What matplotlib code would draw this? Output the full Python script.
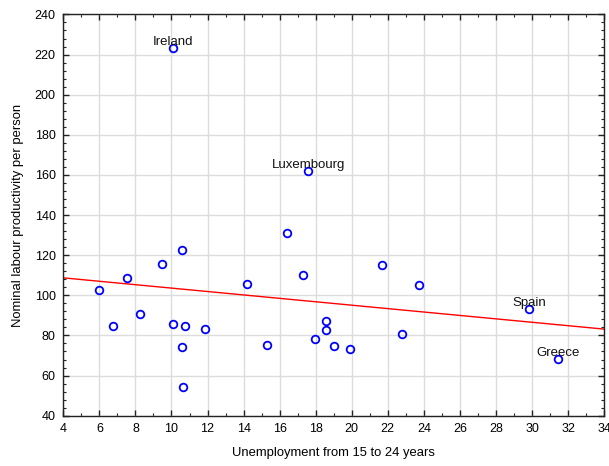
import numpy as np
import matplotlib
matplotlib.use("Agg")
import matplotlib.pyplot as plt
from matplotlib.ticker import MultipleLocator

plt.rcParams['font.family'] = ['Liberation Sans', 'DejaVu Sans']

# Unemployment from 15 to 24 years (x) vs nominal labour productivity per person (y)
unemployment = [5.96, 6.74, 7.53, 8.26, 9.48, 10.07, 10.07, 10.59, 10.57, 10.75, 10.66,
                11.88, 14.19, 15.3, 16.4, 17.28, 17.6, 17.98, 18.58, 18.58, 19.0,
                19.91, 21.7, 22.81, 23.72, 29.84, 31.44]
productivity = [102.6, 84.6, 108.4, 90.8, 115.7, 223.4, 85.8, 122.5, 74.3, 84.6, 54.4,
                83.0, 105.7, 75.0, 131.2, 110.1, 162.1, 78.0, 87.0, 82.5, 74.7,
                73.2, 115.2, 80.5, 104.9, 93.3, 68.3]

labels = ["Ireland", "Luxembourg", "Spain", "Greece"]
label_x = [10.07, 17.6, 29.84, 31.44]
label_y = [223.4, 162.1, 93.3, 68.3]

x_ticks = list(range(4, 35, 2))
y_ticks = list(range(40, 241, 20))

fig = plt.figure(figsize=(6.09, 4.66), dpi=100)
ax = fig.add_axes([0.104, 0.108, 0.888, 0.861])

ax.set_xlim(4, 34)
ax.set_ylim(40, 240)

ax.grid(True, which='major', color='#dcdcdc', linewidth=1.0, zorder=0)
ax.set_axisbelow(True)

# fitted regression line
coef = np.polyfit(unemployment, productivity, 1)
xs = np.array([4, 34])
ax.plot(xs, np.polyval(coef, xs), color='red', linewidth=1.0, zorder=2)

ax.plot(unemployment, productivity, linestyle='none', marker='o', markersize=5.5,
        markerfacecolor='none', markeredgecolor='#0000ff', markeredgewidth=1.3, zorder=3)

for t, lx, ly in zip(labels, label_x, label_y):
    ax.annotate(t, (lx, ly), xytext=(0, 2.2), textcoords='offset points',
                ha='center', va='baseline', fontsize=9.5, color='#111111', zorder=4)

ax.set_xticks(x_ticks)
ax.set_yticks(y_ticks)
ax.xaxis.set_minor_locator(MultipleLocator(1))
ax.yaxis.set_minor_locator(MultipleLocator(4))
ax.tick_params(which='both', direction='in', top=True, right=True, color='#222222')
ax.tick_params(which='major', length=4, width=1.0, labelsize=9, pad=5.5)
ax.tick_params(which='minor', length=2.5, width=0.8)

for s in ax.spines.values():
    s.set_color('#222222')
    s.set_linewidth(1.0)

ax.set_xlabel("Unemployment from 15 to 24 years", fontsize=9.4, labelpad=8.5)
ax.set_ylabel("Nominal labour productivity per person", fontsize=9.4, labelpad=8)

fig.savefig("out.png", dpi=100)
